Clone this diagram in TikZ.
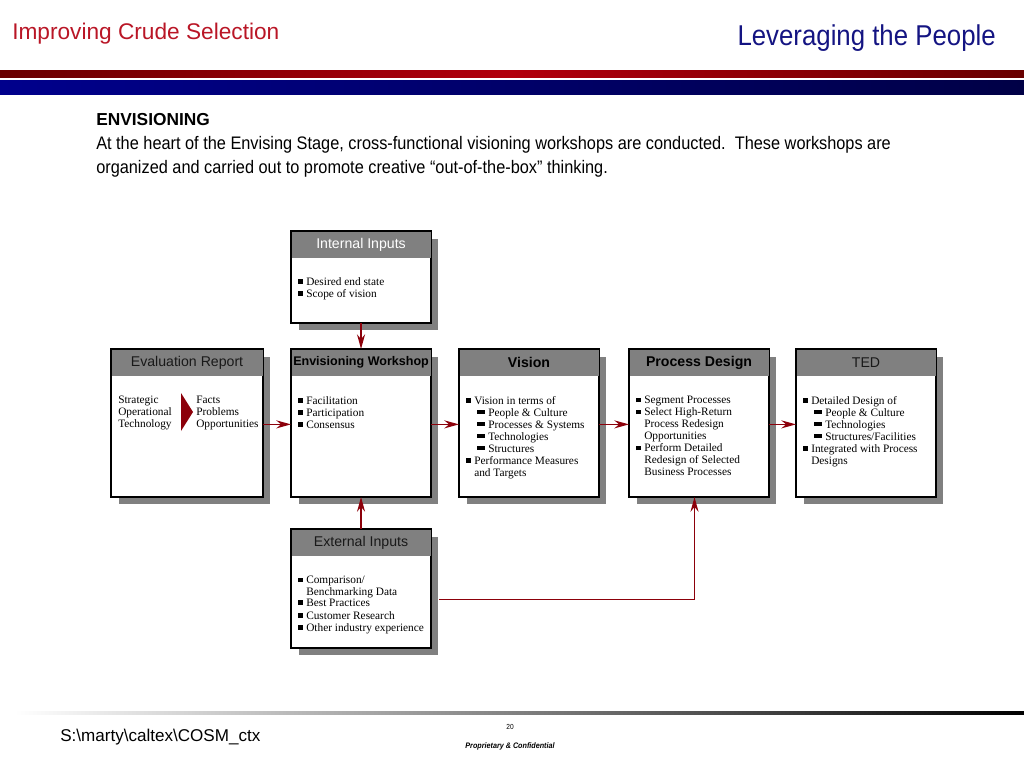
\documentclass[tikz,border=0pt]{standalone}
\usepackage{fontspec}
\setmainfont{Liberation Serif}
\newfontfamily\arial{Liberation Sans}
\newfontfamily\narr[FakeStretch=0.9]{Liberation Sans}
\usetikzlibrary{arrows.meta,shadows}
\definecolor{titlered}{RGB}{185,22,38}
\definecolor{titleblue}{RGB}{20,20,130}
\definecolor{bardark}{RGB}{105,0,0}
\definecolor{barred}{RGB}{178,0,12}
\definecolor{blueL}{RGB}{0,0,140}
\definecolor{blueR}{RGB}{0,0,70}
\definecolor{headgray}{RGB}{128,128,128}
\definecolor{shadowgray}{RGB}{128,128,128}
\definecolor{arrowred}{RGB}{140,0,10}
\newcommand\bl{\makebox[6pt][l]{\rule[0.3ex]{3.5pt}{3.5pt}}}
\newcommand\ind{\hspace*{6pt}}
\newcommand\sbl{\hspace*{8.25pt}\makebox[8.25pt][l]{\rule[0.4ex]{6pt}{2.8pt}}}
\newcommand\mycard[7]{%
  \node[cardbody, minimum width={#4*0.75pt}, minimum height={#5*0.75pt}] (#1) at (#2,#3) {};
  \fill[headgray] (#1.north west) rectangle ([yshift=-20.25pt]#1.north east);
  \draw[line width=0.8pt] (#1.north west) rectangle (#1.south east);
  \node[#6] (#1-h) at ([yshift=-10.1pt]#1.north) {#7};
}
\begin{document}
\begin{tikzpicture}[x=0.75pt,y=-0.75pt,
  cardbody/.style={anchor=north west, draw=black, line width=0.8pt, fill=white, inner sep=0pt,
    drop shadow={shadow xshift=5.25pt, shadow yshift=-5.25pt, fill=shadowgray, opacity=1}},
  headplain/.style={font=\arial\fontsize{10.6}{12}\selectfont, text=black!90, inner sep=0pt},
  headwhite/.style={font=\arial\fontsize{10.6}{12}\selectfont, text=white, inner sep=0pt},
  headbold/.style={font=\arial\bfseries\fontsize{10.6}{12}\selectfont, text=black, inner sep=0pt},
  headboldsmall/.style={font=\arial\bfseries\fontsize{9.4}{11}\selectfont, text=black, inner sep=0pt},
  bodytext/.style={anchor=north west, align=left, inner sep=0pt, font=\fontsize{8.5}{9}\selectfont},
  conn/.style={draw=arrowred, line width=1pt, -{Stealth[length=11pt,width=6pt]}},
  connline/.style={draw=arrowred, line width=1pt}
]
\useasboundingbox (0,0) rectangle (1024,768);

% header bars
\shade[left color=bardark, right color=barred] (0,70) rectangle (512,77);
\shade[left color=barred, right color=bardark] (512,70) rectangle (1024,77);
\shade[left color=blueL, right color=blueR] (0,80) rectangle (1024,94);

% titles
\node[anchor=west, inner sep=0pt, text=titlered, font=\arial\fontsize{17}{20}\selectfont] (t1) at (12,34) {Improving Crude Selection};
\node[anchor=east, inner sep=0pt, text=titleblue, font=\narr\fontsize{21.5}{24}\selectfont] (t2) at (996,38) {Leveraging the People};

% intro text
\node[anchor=west, inner sep=0pt, font=\arial\bfseries\fontsize{13}{15}\selectfont] (env) at (96,120) {ENVISIONING};
\node[anchor=west, inner sep=0pt, font=\narr\fontsize{13.6}{16}\selectfont] (l1) at (96,145) {At the heart of the Envising Stage, cross-functional visioning workshops are conducted.\ \ These workshops are};
\node[anchor=west, inner sep=0pt, font=\narr\fontsize{13.6}{16}\selectfont] (l2) at (96,169) {organized and carried out to promote creative “out-of-the-box” thinking.};

% cards
\mycard{ii}{291}{231}{139}{91}{headwhite}{Internal Inputs}
\mycard{er}{111}{349}{151}{147}{headplain}{Evaluation Report}
\mycard{ew}{291}{349}{139}{147}{headboldsmall}{Envisioning Workshop}
\mycard{vi}{459}{349}{139}{147}{headbold}{Vision}
\mycard{pd}{629}{349}{139}{147}{headbold}{Process Design}
\mycard{ted}{796}{349}{139}{147}{headplain}{TED}
\mycard{ei}{291}{529}{139}{118}{headplain}{External Inputs}

% card texts
\node[bodytext] (ii-t) at (298,277) {\bl Desired end state\\\bl Scope of vision};
\node[bodytext] (er-t1) at (118,396) {Strategic\\Operational\\Technology};
\fill[arrowred] (181,393) -- (193,412) -- (181,431) -- cycle;
\node[bodytext] (er-t2) at (196,396) {Facts\\Problems\\Opportunities};
\node[bodytext] (ew-t) at (298,396) {\bl Facilitation\\\bl Participation\\\bl Consensus};
\node[bodytext] (vi-t) at (466,396) {\bl Vision in terms of\\\sbl People \& Culture\\\sbl Processes \& Systems\\\sbl Technologies\\\sbl Structures\\\bl Performance Measures\\\ind and Targets};
\node[bodytext] (pd-t) at (636,396) {\bl Segment Processes\\\bl Select High-Return\\\ind Process Redesign\\\ind Opportunities\\\bl Perform Detailed\\\ind Redesign of Selected\\\ind Business Processes};
\node[bodytext] (ted-t) at (803,396) {\bl Detailed Design of\\\sbl People \& Culture\\\sbl Technologies\\\sbl Structures/Facilities\\\bl Integrated with Process\\\ind Designs};
\node[bodytext] (ei-t) at (298,576) {\bl Comparison/\\\ind Benchmarking Data\\[-1pt]\bl Best Practices\\[0.6pt]\bl Customer Research\\\bl Other industry experience};

% connectors
\draw[conn] ([yshift=-1pt]er.east) -- ([yshift=-1pt]ew.west);
\draw[conn] ([yshift=-1pt]ew.east) -- ([yshift=-1pt]vi.west);
\draw[conn] ([yshift=-1pt]vi.east) -- ([yshift=-1pt]pd.west);
\draw[conn] ([yshift=-1pt]pd.east) -- ([yshift=-1pt]ted.west);
\draw[conn] (ii.south) -- (ew.north);
\draw[conn] (ei.north) -- (ew.south);
\draw[conn] ([xshift=6pt,yshift=-8.25pt]ei.east) -| ([xshift=-3.4pt]pd.south);

% footer
\shade[left color=white, right color=black] (15,711) rectangle (1024,714);
\node[anchor=west, inner sep=0pt, font=\arial\fontsize{12.8}{15}\selectfont] (path) at (60,737) {S:\textbackslash marty\textbackslash caltex\textbackslash COSM\_ctx};
\node[inner sep=0pt, font=\narr\fontsize{5.5}{6}\selectfont] (pg) at (510,727) {20};
\node[inner sep=0pt, font=\narr\bfseries\itshape\fontsize{6}{7}\selectfont] (conf) at (510,746) {Proprietary \& Confidential};
\end{tikzpicture}
\end{document}
